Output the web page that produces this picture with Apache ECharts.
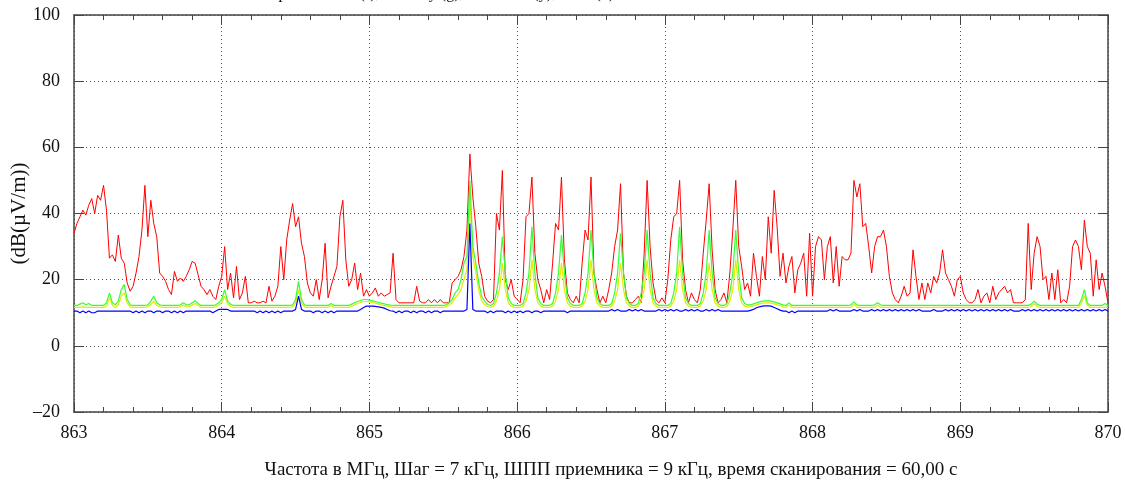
<!DOCTYPE html>
<html>
<head>
<meta charset="utf-8">
<script src="https://cdn.jsdelivr.net/npm/echarts@6/dist/echarts.min.js"></script>
<style>
  html, body { margin: 0; padding: 0; background: #fff; }
  #main { width: 1125px; height: 480px; }
</style>
</head>
<body>
<div id="main"></div>
<script>
// частоты: 863..870 МГц, шаг отсчётов 0.02 МГц
const freqStart = 863;
const freqStep = 0.02;

// максимум (r)
const red = [
  /*0*/   34, 37, 39, 41, 39.5, 42.5, 44.5, 40, 45.5, 44,
  /*10*/  48.5, 41, 26.5, 27.5, 25.5, 33.5, 26.5, 25, 19, 16.5,
  /*20*/  18, 22, 27, 35, 48.5, 33, 44, 37, 33, 22,
  /*30*/  21, 19.5, 17, 15.5, 22.5, 19.5, 20.5, 19.5, 21, 23,
  /*40*/  25.5, 25, 21.5, 18, 17, 15.5, 17, 15, 14, 18,
  /*50*/  21, 30, 17, 22, 14.5, 24, 14, 16, 21, 13,
  /*60*/  13, 13.5, 13, 13, 13.5, 13, 18, 13.5, 15, 18,
  /*70*/  30, 20, 32, 38, 43, 36, 39, 31, 27, 19,
  /*80*/  16, 15, 20, 14, 20, 31, 14.5, 18, 21, 24,
  /*90*/  39, 44, 26, 18, 20, 25, 17, 22, 15, 17,
  /*100*/ 15, 16, 17.5, 15, 16, 15, 15.5, 16, 28, 14,
  /*110*/ 13, 13, 13, 13, 13, 13, 18, 13.5, 13, 13,
  /*120*/ 14, 13, 14, 13, 14, 13, 13, 13, 19, 20,
  /*130*/ 21, 23, 27, 35, 58, 45, 36, 25, 21, 15,
  /*140*/ 13.5, 13, 14, 40, 35, 53, 20, 17, 20, 15,
  /*150*/ 14, 13, 20, 39, 40, 51, 28, 20, 17, 13,
  /*160*/ 17, 14, 25, 37, 35, 51, 26, 16, 14, 13,
  /*170*/ 15, 13, 25, 35, 32, 51, 22, 17, 13, 15,
  /*180*/ 13, 17, 22, 30, 35, 49, 22, 15, 13, 13,
  /*190*/ 14, 15, 13, 28, 50, 30, 19, 14, 13, 14.5,
  /*200*/ 13, 20, 32, 39, 40, 50, 26, 17, 13, 16,
  /*210*/ 14, 13, 17, 28, 38, 49, 29, 17, 13, 14,
  /*220*/ 16, 13, 22, 35, 50, 30, 24, 17, 19, 15,
  /*230*/ 28, 21, 15, 27, 20, 39, 28, 47, 36, 21,
  /*240*/ 28, 19, 24, 27, 16, 23, 25, 28, 15, 34,
  /*250*/ 15, 30, 33, 32, 20, 30, 33, 19, 30, 18,
  /*260*/ 27, 26, 26, 28, 50, 45, 49, 36, 37, 30,
  /*270*/ 22, 30, 33, 33, 35, 30, 21, 16, 14, 13,
  /*280*/ 15, 18, 15, 16, 29, 21, 14, 19, 14, 19,
  /*290*/ 16, 21, 19, 22, 29, 22, 20, 18, 15, 20,
  /*300*/ 21, 16, 14, 13, 13, 14, 17, 13, 15, 16,
  /*310*/ 13, 18, 14, 16, 17, 18, 16, 17, 13, 13,
  /*320*/ 13, 13, 14, 37, 17, 28, 33, 30, 20, 21,
  /*330*/ 14, 22, 14, 23, 13, 14, 13, 18, 30, 32,
  /*340*/ 30, 23, 38, 30, 28, 15, 26, 17, 22, 18,
  /*350*/ 13
];

// по пику (g)
const green = [
  /*0*/   12.2, 12.2, 12.6, 13, 12.4, 12.8, 12.2, 12.2, 12.2, 12.2,
  /*10*/  12.2, 13, 16, 13, 12.4, 13.5, 17, 18.5, 14, 12.4,
  /*20*/  12.2, 12.2, 12.2, 12.2, 12.2, 12.4, 13.5, 15, 13, 12.4,
  /*30*/  12.2, 12.2, 12.2, 12.2, 12.2, 12.2, 12.4, 13, 12.4, 12.4,
  /*40*/  13, 13.6, 12.8, 12.2, 12.2, 12.2, 12.2, 12.2, 12.4, 13,
  /*50*/  14, 17, 13.5, 12.6, 12.2, 12.2, 12.2, 12.2, 12.2, 12.2,
  /*60*/  12.2, 12.2, 12.2, 12.2, 12.2, 12.2, 12.2, 12.2, 12.2, 12.2,
  /*70*/  12.2, 12.2, 12.2, 12.2, 12.4, 14, 19.5, 14, 12.4, 12.2,
  /*80*/  12.2, 12.2, 12.2, 12.2, 12.2, 12.2, 12.2, 12.8, 12.2, 12.2,
  /*90*/  12.2, 12.2, 12.2, 12.2, 12.6, 13, 13.4, 13.7, 14, 14,
  /*100*/ 13.8, 13.6, 13.4, 13.1, 12.9, 12.7, 12.5, 12.3, 12.2, 12.2,
  /*110*/ 12.2, 12.2, 12.2, 12.2, 12.2, 12.2, 12.2, 12.2, 12.2, 12.2,
  /*120*/ 12.2, 12.2, 12.2, 12.2, 12.2, 12.2, 12.4, 13, 14, 16,
  /*130*/ 17, 20, 25, 27, 50, 30, 25, 19, 15, 13.5,
  /*140*/ 12.5, 12.2, 12.8, 16, 22, 33, 22, 14.5, 12.8, 12.2,
  /*150*/ 12.2, 12.2, 12.8, 16, 22, 36, 22, 14.5, 12.8, 12.2,
  /*160*/ 12.2, 12.2, 12.8, 16, 22, 33.5, 22, 14.5, 12.8, 12.2,
  /*170*/ 12.2, 12.2, 12.8, 16, 22, 35, 22, 14.5, 12.8, 12.2,
  /*180*/ 12.2, 12.2, 12.8, 16, 22, 34, 22, 14.5, 12.8, 12.2,
  /*190*/ 12.2, 12.8, 16, 22, 35, 22, 14.5, 12.8, 12.2, 12.2,
  /*200*/ 12.2, 12.2, 12.8, 16, 22, 36, 22, 14.5, 12.8, 12.2,
  /*210*/ 12.2, 12.2, 12.8, 16, 22, 35, 22, 14.5, 12.8, 12.2,
  /*220*/ 12.2, 12.8, 16, 22, 35, 22, 14.5, 12.8, 12.4, 12.4,
  /*230*/ 12.7, 13, 13.3, 13.5, 13.6, 13.6, 13.5, 13.3, 13, 12.7,
  /*240*/ 12.4, 12.2, 13, 12.2, 12.2, 12.2, 12.2, 12.2, 12.2, 12.2,
  /*250*/ 12.2, 12.2, 12.2, 12.2, 12.2, 12.2, 12.2, 12.2, 12.2, 12.2,
  /*260*/ 12.2, 12.2, 12.2, 12.4, 13.3, 12.4, 12.2, 12.2, 12.2, 12.2,
  /*270*/ 12.2, 12.4, 13, 12.4, 12.2, 12.2, 12.2, 12.2, 12.2, 12.2,
  /*280*/ 12.2, 12.2, 12.2, 12.2, 12.2, 12.2, 12.2, 12.2, 12.2, 12.2,
  /*290*/ 12.2, 12.2, 12.2, 12.2, 12.2, 12.2, 12.2, 12.2, 12.2, 12.2,
  /*300*/ 12.2, 12.2, 12.2, 12.2, 12.2, 12.2, 12.2, 12.2, 12.2, 12.2,
  /*310*/ 12.2, 12.2, 12.2, 12.2, 12.2, 12.2, 12.2, 12.2, 12.2, 12.2,
  /*320*/ 12.2, 12.2, 12.2, 12.2, 12.6, 13.5, 12.6, 12.2, 12.2, 12.2,
  /*330*/ 12.2, 12.2, 12.2, 12.2, 12.2, 12.2, 12.2, 12.2, 12.2, 12.2,
  /*340*/ 12.2, 14, 17, 13, 12.2, 12.2, 12.2, 12.2, 12.2, 12.8,
  /*350*/ 12.2
];

// квазипик (y)
const yellow = [
  /*0*/   11.6, 11.6, 11.6, 11.8, 11.6, 11.6, 11.6, 11.6, 11.6, 11.6,
  /*10*/  11.6, 12, 14.5, 12.2, 11.6, 12.5, 15, 16, 13, 11.8,
  /*20*/  11.6, 11.6, 11.6, 11.6, 11.6, 11.8, 12.5, 13.5, 12.2, 11.8,
  /*30*/  11.6, 11.6, 11.6, 11.6, 11.6, 11.6, 11.8, 12.3, 11.8, 11.8,
  /*40*/  12.3, 12.8, 12.2, 11.6, 11.6, 11.6, 11.6, 11.6, 11.8, 12.3,
  /*50*/  13, 15, 12.8, 11.9, 11.6, 11.6, 11.6, 11.6, 11.6, 11.6,
  /*60*/  11.6, 11.6, 11.6, 11.6, 11.6, 11.6, 11.6, 11.6, 11.6, 11.6,
  /*70*/  11.6, 11.6, 11.6, 11.6, 11.8, 13, 17, 13, 11.8, 11.6,
  /*80*/  11.6, 11.6, 11.6, 11.6, 11.6, 11.6, 11.6, 12.2, 11.6, 11.6,
  /*90*/  11.6, 11.6, 11.6, 11.6, 12, 12.4, 12.8, 13.1, 13.4, 13.4,
  /*100*/ 13.3, 13.1, 12.9, 12.6, 12.4, 12.2, 12, 11.8, 11.6, 11.6,
  /*110*/ 11.6, 11.6, 11.6, 11.6, 11.6, 11.6, 11.6, 11.6, 11.6, 11.6,
  /*120*/ 11.6, 11.6, 11.6, 11.6, 11.6, 11.6, 11.8, 12.3, 13, 14.5,
  /*130*/ 15.5, 17, 20, 23, 45, 27, 22, 17, 13.5, 12.5,
  /*140*/ 11.9, 11.6, 12, 13.5, 17, 25, 17, 13, 12, 11.6,
  /*150*/ 11.6, 11.6, 12, 13.5, 17, 26, 17, 13, 12, 11.6,
  /*160*/ 11.6, 11.6, 12, 13.5, 17, 25, 17, 13, 12, 11.6,
  /*170*/ 11.6, 11.6, 12, 13.5, 17, 26, 17, 13, 12, 11.6,
  /*180*/ 11.6, 11.6, 12, 13.5, 17, 25, 17, 13, 12, 11.6,
  /*190*/ 11.6, 12, 13.5, 17, 26, 17, 13, 12, 11.6, 11.6,
  /*200*/ 11.6, 11.6, 12, 13.5, 17, 26, 17, 13, 12, 11.6,
  /*210*/ 11.6, 11.6, 12, 13.5, 17, 25, 17, 13, 12, 11.6,
  /*220*/ 11.6, 12, 13.5, 17, 26, 17, 13, 12, 11.8, 11.8,
  /*230*/ 12.1, 12.4, 12.7, 12.9, 13, 13, 12.9, 12.7, 12.4, 12.1,
  /*240*/ 11.8, 11.6, 12.3, 11.6, 11.6, 11.6, 11.6, 11.6, 11.6, 11.6,
  /*250*/ 11.6, 11.6, 11.6, 11.6, 11.6, 11.6, 11.6, 11.6, 11.6, 11.6,
  /*260*/ 11.6, 11.6, 11.6, 11.6, 12.6, 11.6, 11.6, 11.6, 11.6, 11.6,
  /*270*/ 11.6, 11.6, 12.3, 11.6, 11.6, 11.6, 11.6, 11.6, 11.6, 11.6,
  /*280*/ 11.6, 11.6, 11.6, 11.6, 11.6, 11.6, 11.6, 11.6, 11.6, 11.6,
  /*290*/ 11.6, 11.6, 11.6, 11.6, 11.6, 11.6, 11.6, 11.6, 11.6, 11.6,
  /*300*/ 11.6, 11.6, 11.6, 11.6, 11.6, 11.6, 11.6, 11.6, 11.6, 11.6,
  /*310*/ 11.6, 11.6, 11.6, 11.6, 11.6, 11.6, 11.6, 11.6, 11.6, 11.6,
  /*320*/ 11.6, 11.6, 11.6, 11.6, 11.9, 12.8, 11.9, 11.6, 11.6, 11.6,
  /*330*/ 11.6, 11.6, 11.6, 11.6, 11.6, 11.6, 11.6, 11.6, 11.6, 11.6,
  /*340*/ 11.6, 13, 15, 12.4, 11.6, 11.6, 11.6, 11.6, 11.6, 11.6,
  /*350*/ 11.6
];

// мин. (b)
const blue = [
  /*0*/   10.5, 10.5, 10, 10.5, 10, 10.5, 10, 10, 10.5, 10.5,
  /*10*/  10.5, 10.5, 10.5, 10.5, 10.5, 10.5, 10.5, 10.5, 10.5, 10.5,
  /*20*/  10, 10.5, 10, 10.5, 10, 10.5, 10.5, 10, 10.5, 10.5,
  /*30*/  10, 10.5, 10.5, 10, 10.5, 10, 10.5, 10, 10.5, 10.5,
  /*40*/  10.5, 10.5, 10.5, 10.5, 10.5, 10.5, 10.5, 10, 10.5, 11,
  /*50*/  11, 11, 11, 10.5, 10.5, 10.5, 10.5, 10.5, 10.5, 10.5,
  /*60*/  10.5, 10.5, 10, 10.5, 10, 10.5, 10, 10.5, 10, 10.5,
  /*70*/  10, 10.5, 10.5, 10.5, 10.5, 11, 15, 11, 10.5, 10.5,
  /*80*/  10.5, 10, 10.5, 10.5, 10, 10.5, 10, 10.5, 10, 10.5,
  /*90*/  10.5, 10.5, 10.5, 10.5, 10.5, 10.5, 10.5, 11, 11.6, 12,
  /*100*/ 12, 12, 11.9, 11.8, 11.6, 11.4, 11, 10.6, 10.5, 10,
  /*110*/ 10.5, 10, 10.5, 10.5, 10, 10.5, 10, 10.5, 10.5, 10,
  /*120*/ 10.5, 10, 10.5, 10.5, 10, 10.5, 10.5, 10.5, 10.5, 10.5,
  /*130*/ 10.5, 10.5, 10.5, 11, 37, 11, 10.5, 10.5, 10.5, 10.5,
  /*140*/ 10, 10.5, 10, 10.5, 10.5, 10.5, 10, 10.5, 10, 10.5,
  /*150*/ 10, 10.5, 10, 10.5, 10.5, 10, 10.5, 10.5, 10, 10.5,
  /*160*/ 10.5, 10.5, 10.5, 10.5, 10.5, 10.5, 10.5, 10, 10.5, 10.5,
  /*170*/ 10.5, 10.5, 10.5, 10.5, 10.5, 10.5, 10.5, 10.5, 10.5, 10.5,
  /*180*/ 10.5, 10.5, 11, 10.5, 11, 10.5, 10.5, 10.5, 11, 10.5,
  /*190*/ 11, 10.5, 11, 10.5, 10.5, 10.5, 10.5, 10.5, 11, 10.5,
  /*200*/ 11, 10.5, 11, 10.5, 11, 10.5, 10.5, 11, 10.5, 11,
  /*210*/ 10.5, 11, 10.5, 10.5, 11, 10.5, 11, 10.5, 11, 10.5,
  /*220*/ 10.5, 10.5, 10.5, 10.5, 10.5, 10.5, 10.5, 10.5, 10.5, 10.7,
  /*230*/ 11, 11.5, 11.8, 12, 12.1, 12.1, 12, 11.6, 11.2, 10.8,
  /*240*/ 10.5, 10.5, 10, 10.5, 10, 10.5, 10.5, 10.5, 10.5, 10.5,
  /*250*/ 10.5, 10.5, 10.5, 10.5, 10.5, 10.5, 11, 10.5, 11, 10.5,
  /*260*/ 10.5, 10.5, 10.5, 10.5, 11, 10.5, 11, 10.5, 10.5, 10.5,
  /*270*/ 11, 10.5, 11, 10.5, 11, 10.5, 11, 10.5, 11, 10.5,
  /*280*/ 11, 10.5, 11, 10.5, 11, 10.5, 11, 10.5, 10.5, 10.5,
  /*290*/ 10.5, 11, 10.5, 10.5, 10.5, 11, 10.5, 11, 10.5, 11,
  /*300*/ 10.5, 11, 10.5, 11, 10.5, 11, 10.5, 11, 10.5, 11,
  /*310*/ 10.5, 11, 10.5, 11, 10.5, 11, 10.5, 11, 10.5, 10.5,
  /*320*/ 10.5, 11, 10.5, 11, 10.5, 11, 10.5, 11, 10.5, 11,
  /*330*/ 10.5, 11, 10.5, 11, 10.5, 11, 10.5, 11, 10.5, 11,
  /*340*/ 10.5, 11, 10.5, 11, 10.5, 11, 10.5, 11, 10.5, 11,
  /*350*/ 10.5
];

const yTicks = [-20, 0, 20, 40, 60, 80, 100];
const titleText = 'Превышение (r), по пику (g), квазипик (y), мин. (b)';
const xName = 'Частота в МГц, Шаг = 7 кГц, ШПП приемника = 9 кГц, время сканирования = 60,00 с';
const yName = '(dB(µV/m))';

const freqs = red.map((_, i) => +(freqStart + i * freqStep).toFixed(2));
const pairs = arr => arr.map((v, i) => [freqs[i], v]);

const serif = 'Liberation Serif';
const frame = '#444';

const myChart = echarts.init(document.getElementById('main'), null, { renderer: 'canvas' });

myChart.setOption({
  animation: false,
  backgroundColor: '#fff',
  title: {
    text: titleText,
    left: 262,
    top: -19,
    textStyle: { fontFamily: serif, fontSize: 16, fontWeight: 'normal', color: '#111' }
  },
  grid: { left: 74, right: 17, top: 15, bottom: 68, containLabel: false, outerBoundsMode: 'none' },
  xAxis: [{
    type: 'value',
    min: 863, max: 870, interval: 1,
    axisLine: { show: true, onZero: false, lineStyle: { color: frame, width: 1.5 } },
    axisTick: { inside: true, length: 10, lineStyle: { color: frame } },
    minorTick: { show: true, splitNumber: 5, length: 5, lineStyle: { color: frame } },
    splitLine: { show: true, lineStyle: { color: '#555', type: [1, 3] } },
    axisLabel: { color: '#111', fontFamily: serif, fontSize: 18, margin: 12 },
    name: xName,
    nameLocation: 'middle',
    nameGap: 49,
    nameTextStyle: { color: '#111', fontFamily: serif, fontSize: 19, padding: [0, 0, 0, 40] }
  }, {
    type: 'value',
    position: 'top',
    min: 863, max: 870, interval: 1,
    axisLine: { show: true, onZero: false, lineStyle: { color: frame, width: 1.5 } },
    axisTick: { inside: true, length: 10, lineStyle: { color: frame } },
    minorTick: { show: true, splitNumber: 5, length: 5, lineStyle: { color: frame } },
    splitLine: { show: false },
    axisLabel: { show: false }
  }],
  yAxis: [{
    type: 'value',
    min: yTicks[0], max: yTicks[yTicks.length - 1], interval: 20,
    axisLine: { show: true, onZero: false, lineStyle: { color: frame, width: 1.5 } },
    axisTick: { show: true, inside: true, length: 10, lineStyle: { color: frame } },
    splitLine: { show: true, lineStyle: { color: '#555', type: [1, 3] } },
    axisLabel: {
      color: '#111', fontFamily: serif, fontSize: 18, margin: 14,
      formatter: v => String(v).replace('-', '\u2013')
    },
    name: yName,
    nameLocation: 'middle',
    nameGap: 44,
    nameMoveOverlap: false,
    nameRotate: 90,
    nameTextStyle: { color: '#111', fontFamily: serif, fontSize: 21 }
  }, {
    type: 'value',
    position: 'right',
    min: yTicks[0], max: yTicks[yTicks.length - 1], interval: 20,
    axisLine: { show: true, onZero: false, lineStyle: { color: frame, width: 1.5 } },
    axisTick: { show: true, inside: true, length: 10, lineStyle: { color: frame } },
    splitLine: { show: false },
    axisLabel: { show: false }
  }],
  series: [
    { name: 'r', type: 'line', data: pairs(red), showSymbol: false, symbol: 'none', silent: true,
      lineStyle: { color: '#ff0000', width: 1 } },
    { name: 'y', type: 'line', data: pairs(yellow), showSymbol: false, symbol: 'none', silent: true,
      lineStyle: { color: '#e8e800', width: 1.2 } },
    { name: 'g', type: 'line', data: pairs(green), showSymbol: false, symbol: 'none', silent: true,
      lineStyle: { color: '#33ff33', width: 1.2 } },
    { name: 'b', type: 'line', data: pairs(blue), showSymbol: false, symbol: 'none', silent: true,
      lineStyle: { color: '#0000ff', width: 1.2 } }
  ]
});
</script>
</body>
</html>
